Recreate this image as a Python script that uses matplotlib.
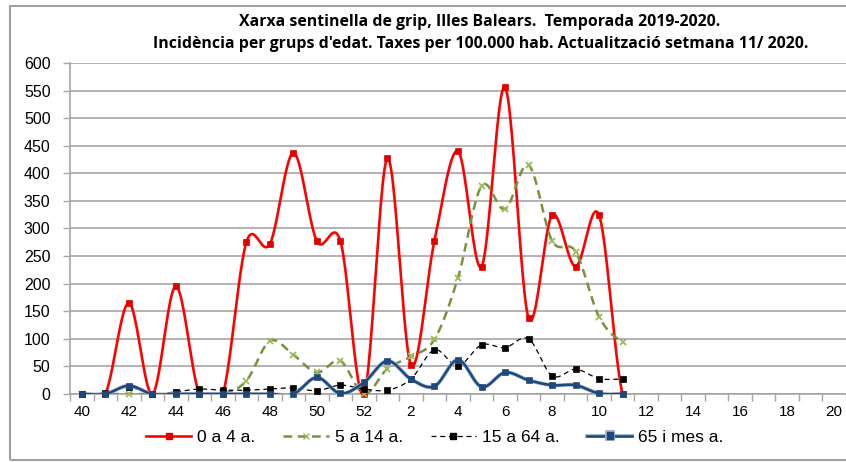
import numpy as np
import matplotlib
matplotlib.use("Agg")
import matplotlib.pyplot as plt
from matplotlib.patches import Rectangle
from matplotlib.lines import Line2D
import matplotlib.patheffects as pe

# week categories: 40..52 then 1..20
weeks = list(range(40, 53)) + list(range(1, 21))
tick_labels = [str(w) if w % 2 == 0 else "" for w in weeks]

# observed weeks 40..52, 1..11 (24 points)
age_0_4 = [0, 0, 165, 0, 195, 0, 0, 275, 272, 437, 277, 277, 0,
           427, 53, 278, 440, 231, 556, 138, 324, 231, 324, 0]
age_5_14 = [0, 0, 0, 0, 0, 0, 0, 24, 96, 71, 39, 60, 0,
            46, 68, 99, 211, 377, 335, 415, 278, 258, 140, 95]
age_15_64 = [0, 2, 12, 0, 4, 9, 7, 7, 9, 11, 6, 16, 9,
             7, 27, 80, 51, 89, 84, 100, 33, 45, 28, 27]
age_65 = [0, 0, 15, 0, 0, 0, 0, 0, 0, 0, 30, 1, 21,
          60, 27, 14, 62, 13, 39, 25, 16, 16, 1, 0]

series_names = ["0 a 4 a.", "5 a 14 a.", "15 a 64 a.", "65 i mes a."]


def smooth(xs, ys, n=24):
    xs = np.asarray(xs, float)
    ys = np.asarray(ys, float)
    px = np.concatenate([[2 * xs[0] - xs[1]], xs, [2 * xs[-1] - xs[-2]]])
    py = np.concatenate([[ys[0]], ys, [ys[-1]]])
    out_x, out_y = [], []
    t = np.linspace(0, 1, n, endpoint=False)
    for i in range(1, len(px) - 2):
        p0 = np.array([px[i], py[i]])
        p3 = np.array([px[i + 1], py[i + 1]])
        c1 = p0 + (p3 - np.array([px[i - 1], py[i - 1]])) / 6.0
        c2 = p3 - (np.array([px[i + 2], py[i + 2]]) - p0) / 6.0
        b = ((1 - t) ** 3)[:, None] * p0 + (3 * (1 - t) ** 2 * t)[:, None] * c1 \
            + (3 * (1 - t) * t ** 2)[:, None] * c2 + (t ** 3)[:, None] * p3
        out_x.extend(b[:, 0]); out_y.extend(b[:, 1])
    out_x.append(xs[-1]); out_y.append(ys[-1])
    return np.array(out_x), np.array(out_y)


W, H = 846, 462
fig = plt.figure(figsize=(W / 100, H / 100), dpi=100)

# chart area border
fig.add_artist(Rectangle((10 / W, 1 - 460 / H), (W + 20 - 10) / W, (460 - 6) / H,
                         transform=fig.transFigure, fill=False,
                         edgecolor="#a0a0a0", linewidth=1.5))

ax = fig.add_axes([70 / W, 1 - 394 / H, (846 - 70) / W, (394 - 63) / H])
ax.set_xlim(-0.5, len(weeks) - 0.5)
ax.set_ylim(0, 600)

x = np.arange(len(age_0_4))

blue_fx = [pe.Stroke(linewidth=2.8, foreground="#9DB5D3"), pe.Normal()]
styles = [
    dict(color="#FF0000", lw=1.9, ls="-", marker="s", ms=4.5, mfc="#E00000", mec="#E00000"),
    dict(color="#77933C", lw=1.8, ls=(0, (3.5, 2.2)), marker="x", ms=5, mfc="#9BBB59", mec="#9BBB59"),
    dict(color="#000000", lw=0.9, ls=(0, (4, 3)), marker="s", ms=5, mfc="#000000", mec="#000000"),
    dict(color="#1F497D", lw=1.8, ls="-", marker="s", ms=4.5, mfc="#1F497D", mec="#1F497D"),
]
data = [age_0_4, age_5_14, age_15_64, age_65]
zorders = [3, 4, 5, 6]

for vals, st, z in zip(data, styles, zorders):
    sx, sy = smooth(x, vals)
    line_kwargs = dict(color=st["color"], lw=st["lw"], ls=st["ls"], zorder=z)
    if st["color"] == "#1F497D":
        line_kwargs["path_effects"] = blue_fx
    ax.plot(sx, sy, solid_capstyle="round", **line_kwargs)
    ax.plot(x, vals, ls="none", marker=st["marker"], ms=st["ms"], mfc=st["mfc"],
            mec=st["mec"], mew=1.3 if st["marker"] == "x" else 0.5, zorder=z + 0.5, clip_on=False)

ax.set_yticks(np.arange(0, 601, 50))
ax.grid(axis="y", color="#a6a6a6", lw=1.2)
ax.set_axisbelow(True)
for s in ["top", "right"]:
    ax.spines[s].set_visible(False)
ax.spines["left"].set_color("#a6a6a6")
ax.spines["left"].set_linewidth(1.2)
ax.spines["bottom"].set_color("#a6a6a6")
ax.spines["bottom"].set_linewidth(1.2)

# category ticks between categories, labels at categories
ax.set_xticks(np.arange(-0.5, len(weeks), 1.0))
ax.set_xticklabels([])
ax.tick_params(axis="x", which="major", length=5, color="#a6a6a6", width=1)
ax.set_xticks(np.arange(len(weeks)), minor=True)
ax.set_xticklabels(tick_labels, minor=True, fontsize=11, family="Liberation Sans")
ax.tick_params(axis="x", which="minor", length=0, pad=8)
ax.tick_params(axis="y", length=5, color="#a6a6a6", width=1, labelsize=11.5, pad=9)
for lab in ax.get_yticklabels():
    lab.set_family("Liberation Sans")

fig.text(480 / W, 1 - 22 / H, "Xarxa sentinella de grip, Illes Balears.  Temporada 2019-2020.",
         ha="center", va="center", fontsize=11.4, fontweight="bold", family="Open Sans")
fig.text(481 / W, 1 - 44 / H,
         "Incidència per grups d'edat. Taxes per 100.000 hab. Actualització setmana 11/ 2020.",
         ha="center", va="center", fontsize=11.4, fontweight="bold", family="Open Sans")

handles = []
for st, name in zip(styles, series_names):
    kw = dict(color=st["color"], lw=st["lw"], ls=st["ls"], marker=st["marker"], ms=st["ms"],
              mfc=st["mfc"], mec=st["mec"])
    if st["color"] == "#1F497D":
        kw["path_effects"] = blue_fx
    handles.append(Line2D([0], [0], **kw))
leg = fig.legend(handles, series_names, loc="center", bbox_to_anchor=(435 / W, 1 - 437 / H),
                 ncol=4, frameon=False, handlelength=2.6, columnspacing=1.6, handletextpad=0.35,
                 prop={"family": "Liberation Sans", "size": 12.5})

fig.savefig("out.png", dpi=100)
